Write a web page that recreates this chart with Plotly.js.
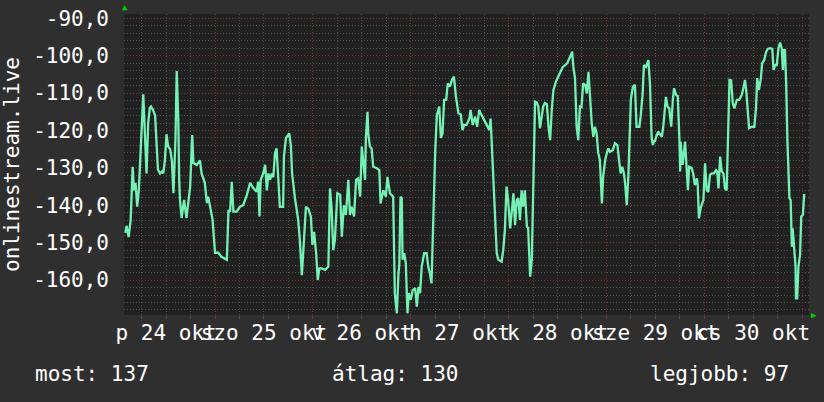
<!DOCTYPE html>
<html>
<head>
<meta charset="utf-8">
<script src="https://cdn.plot.ly/plotly-3.0.1.min.js"></script>
<style>html,body{margin:0;padding:0;background:#2f2f2f;}#chart{width:824px;height:402px;}</style>
</head>
<body>
<div id="chart"></div>
<script>
// hours since 24 Oct 00:00
const hours = [
2.0,2.3,2.8,3.3,3.8,4.1,4.5,4.9,5.3,5.6,6.0,6.4,6.8,7.2,7.6,8.0,8.3,8.8,9.3,9.7,
10.0,10.5,11.0,11.3,11.7,12.1,12.5,13.0,13.4,13.8,14.3,14.6,15.0,15.2,15.4,15.8,16.4,17.0,17.4,17.9,
18.4,18.7,19.5,20.3,20.7,21.5,22.0,22.3,22.8,23.4,24.0,24.8,25.6,26.9,27.3,27.7,28.1,28.5,29.3,30.1,
30.9,31.8,32.6,33.4,34.2,34.6,34.9,35.2,35.8,36.3,36.7,37.1,37.5,37.9,38.3,38.7,39.1,39.5,39.9,40.2,
40.7,40.9,41.4,42.2,42.6,42.9,43.6,44.4,44.8,45.3,45.8,46.3,46.9,47.5,47.9,48.3,48.8,49.2,49.6,50.2,
51.0,51.8,52.2,52.6,53.0,53.4,54.0,54.7,55.1,55.6,56.1,56.7,57.1,57.5,58.1,58.6,59.1,59.6,60.0,60.4,
60.8,61.0,61.4,61.6,62.0,62.4,62.8,63.7,64.3,64.6,65.3,65.9,66.3,66.9,67.7,68.1,68.6,69.0,69.2,69.5,
69.8,70.0,70.4,70.8,71.2,71.5,72.0,72.5,73.1,73.5,73.9,74.3,74.7,75.3,75.9,76.3,76.7,77.1,77.5,78.0,
78.4,79.0,79.4,79.8,80.2,80.7,81.1,81.6,82.1,82.6,83.1,83.7,84.3,84.7,85.1,85.7,86.4,86.7,87.2,87.8,
88.3,88.8,89.4,90.0,90.6,91.3,91.6,91.9,92.3,92.7,93.1,93.5,94.3,94.7,95.1,95.5,95.9,96.4,96.8,97.2,
97.6,98.0,98.4,98.8,99.2,99.6,100.0,100.5,100.8,101.3,101.7,102.1,102.5,102.9,103.3,103.7,104.1,104.5,104.9,105.4,
105.8,106.2,106.6,107.0,107.6,108.2,108.8,109.3,109.9,110.4,111.1,111.6,111.9,112.3,112.7,113.1,113.5,113.9,114.3,114.8,
115.2,115.6,116.0,116.4,116.8,117.2,117.6,118.0,118.4,118.9,119.2,119.7,120.1,120.5,120.9,121.6,122.1,122.7,123.2,123.5,
123.9,124.3,124.6,125.0,125.4,125.8,126.0,126.5,127.0,127.4,128.1,128.4,128.9,129.2,129.7,130.3,130.7,131.1,131.4,131.7,
131.9,132.2,132.7,133.6,134.0,134.6,135.0,135.4,135.9,136.3,136.6,137.1,137.5,137.9,138.1,138.2,138.7,139.3,139.7,140.0,
140.3,140.9,141.3,141.7,142.2,142.4,142.7,143.2,143.8,144.2,144.6,145.0,145.4,145.8,146.4,146.9,147.2,147.5,147.9,148.3,
148.7,149.1,149.5,149.9,150.2,150.6,151.0,151.4,152.0,152.6,153.2,153.6,154.0,154.3,154.7,155.0,155.7,156.3,156.7,157.0,
157.4,157.9,158.2,158.7,159.2,159.6,160.1,160.7,161.0,161.4,161.8,162.2,162.6,163.0,163.3,163.5,163.8,164.1,164.4,164.9,
165.2,165.5,165.7,166.0,166.4,166.5,166.8,167.1,167.5,167.8,168.2,168.5,168.8
];
const values = [
-147.4,-145.5,-148.5,-144.0,-129.7,-136.0,-134.0,-140.4,-136.0,-128.0,-122.0,-110.3,-121.0,-131.5,-118.0,-114.0,-113.6,-114.5,-116.0,-124.0,
-130.5,-131.5,-131.0,-131.5,-128.0,-121.0,-124.3,-125.0,-128.0,-136.8,-122.0,-104.1,-117.6,-133.0,-138.6,-143.4,-138.6,-143.4,-139.0,-135.0,
-121.2,-128.7,-129.2,-128.0,-131.5,-134.0,-139.4,-137.7,-140.4,-143.9,-152.7,-152.7,-153.8,-154.6,-141.3,-141.7,-133.7,-141.7,-141.7,-140.4,
-140.0,-137.3,-134.0,-135.4,-136.4,-133.7,-143.0,-133.3,-131.5,-129.2,-136.0,-131.5,-133.2,-131.5,-132.5,-126.1,-124.8,-131.5,-140.4,-140.4,
-140.4,-127.0,-122.0,-120.8,-124.0,-131.5,-138.1,-143.9,-149.3,-158.7,-148.4,-140.4,-141.0,-143.0,-150.6,-147.1,-152.8,-160.0,-156.9,-156.9,
-157.3,-156.4,-135.5,-140.8,-152.0,-149.3,-136.8,-137.2,-148.4,-140.0,-142.6,-133.2,-142.6,-140.4,-143.0,-133.2,-132.8,-137.7,-124.3,-128.4,
-133.2,-122.0,-115.0,-121.0,-124.3,-124.8,-129.7,-130.1,-130.6,-139.5,-136.0,-137.7,-132.4,-136.8,-137.7,-163.5,-168.9,-158.2,-156.0,-137.7,
-138.1,-154.6,-152.8,-155.5,-168.9,-163.5,-165.3,-162.7,-162.2,-167.1,-161.8,-163.5,-156.4,-152.8,-152.8,-156.4,-158.2,-160.9,-143.9,-126.1,
-116.0,-113.6,-122.0,-120.8,-111.8,-111.8,-107.4,-108.3,-106.5,-105.6,-111.0,-115.4,-115.7,-119.9,-118.5,-118.5,-116.8,-114.5,-118.5,-116.3,
-119.0,-114.5,-115.9,-117.2,-118.5,-119.9,-116.8,-125.0,-136.0,-143.0,-152.8,-154.6,-155.1,-152.0,-146.6,-135.0,-138.6,-146.2,-142.2,-136.8,
-145.3,-138.6,-138.1,-143.9,-136.0,-140.4,-136.0,-145.7,-146.0,-159.1,-154.6,-130.0,-112.3,-112.5,-113.6,-119.4,-116.3,-113.6,-112.7,-113.0,
-119.0,-122.6,-114.5,-109.2,-107.0,-105.6,-104.3,-103.0,-102.5,-102.0,-100.3,-98.9,-103.0,-106.0,-119.0,-122.6,-113.6,-113.8,-107.4,-107.8,
-110.1,-104.3,-111.0,-118.1,-121.7,-119.0,-120.8,-126.0,-127.9,-139.5,-132.4,-127.9,-126.1,-124.8,-125.7,-125.2,-123.4,-123.9,-128.8,-131.5,
-129.7,-131.5,-134.2,-140.0,-131.9,-120.0,-111.8,-108.3,-107.8,-119.0,-119.0,-116.3,-110.1,-102.5,-103.0,-101.2,-107.8,-122.0,-123.9,-122.6,
-123.0,-121.7,-120.3,-121.7,-118.5,-111.0,-113.6,-114.0,-119.0,-111.8,-108.7,-110.5,-110.8,-122.0,-131.0,-123.0,-129.2,-123.0,-131.0,-136.0,
-129.7,-130.0,-131.5,-134.6,-132.8,-134.6,-143.5,-140.4,-138.6,-128.8,-136.0,-136.4,-131.9,-131.5,-131.5,-130.6,-131.0,-135.5,-127.0,-131.0,
-131.5,-135.5,-136.0,-120.0,-106.5,-106.6,-112.7,-114.1,-111.8,-111.8,-110.5,-108.7,-106.5,-109.2,-115.4,-119.4,-119.0,-119.0,-114.1,-106.0,
-109.2,-106.0,-102.0,-101.2,-98.9,-98.2,-98.0,-98.2,-103.8,-102.5,-102.5,-98.0,-96.5,-98.0,-103.8,-98.5,-98.5,-107.4,-122.6,-138.1,
-138.6,-151.1,-146.2,-151.0,-156.4,-164.9,-164.9,-156.4,-153.3,-143.0,-142.6,-137.3,-137.3
];
const yTickValues = [-160, -150, -140, -130, -120, -110, -100, -90];
const yTickLabels = ["-160,0", "-150,0", "-140,0", "-130,0", "-120,0", "-110,0", "-100,0", "-90,0"];
const dayLabelHours = [12, 36, 60, 84, 108, 132, 156];
const dayLabels = ["p 24 okt", "szo 25 okt", "v 26 okt", "h 27 okt", "k 28 okt", "sze 29 okt", "cs 30 okt"];
const seriesName = "onlinestream.live";
const footer = ["most: 137", "átlag: 130", "legjobb: 97"];

const FONT = "DejaVu Sans Mono";
const xRange = [1.67, 169.7];
const redGrid = "#743434";
const grayGrid = "#505050";
const dotDash = "1px,2px";

const trace = {
  x: hours, y: values, xaxis: "x", yaxis: "y", type: "scatter", mode: "lines",
  line: {color: "#74f2b6", width: 2.3}, hoverinfo: "skip", showlegend: false
};
// empty trace so that the day-label axis is drawn
const labelAxisTrace = {
  x: [], y: [], xaxis: "x2", yaxis: "y", type: "scatter", mode: "lines",
  hoverinfo: "skip", showlegend: false
};

const layout = {
  width: 824, height: 402,
  paper_bgcolor: "#2f2f2f", plot_bgcolor: "#212121",
  margin: {l: 124, r: 15, t: 14, b: 87, pad: 0},
  showlegend: false,
  xaxis: {
    range: xRange, tickmode: "linear", tick0: 0, dtick: 24,
    showticklabels: false, showgrid: true, gridcolor: redGrid, griddash: dotDash, gridwidth: 1,
    ticks: "outside", ticklen: 3, tickcolor: redGrid, zeroline: false, showline: false,
    minor: {tick0: 0, dtick: 6, showgrid: true, gridcolor: grayGrid, griddash: dotDash, gridwidth: 1,
            ticks: "outside", ticklen: 3, tickcolor: grayGrid},
    fixedrange: true
  },
  xaxis2: {
    range: xRange, overlaying: "x", anchor: "y", side: "bottom",
    tickmode: "array", tickvals: dayLabelHours, ticktext: dayLabels, tickangle: 0,
    showgrid: false, zeroline: false, ticks: "", ticklabelstandoff: 3,
    tickfont: {family: FONT, size: 21, color: "#ffffff"}
  },
  yaxis: {
    range: [-169.35, -88.85], tickmode: "array", tickvals: yTickValues, ticktext: yTickLabels,
    showgrid: true, gridcolor: redGrid, griddash: dotDash, gridwidth: 1, zeroline: false,
    ticks: "", ticklabelstandoff: 14,
    tickfont: {family: FONT, size: 21, color: "#ffffff"},
    minor: {tick0: -90, dtick: 2, showgrid: true, gridcolor: grayGrid, griddash: dotDash, gridwidth: 1},
    title: {text: seriesName, font: {family: FONT, size: 21, color: "#ffffff"}, standoff: 8},
    automargin: false
  },
  annotations: [
    {xref: "paper", yref: "paper", x: -0.1328, y: -0.197, xanchor: "left", yanchor: "middle",
     text: footer[0], showarrow: false, font: {family: FONT, size: 21, color: "#ffffff"}},
    {xref: "paper", yref: "paper", x: 0.3007, y: -0.197, xanchor: "left", yanchor: "middle",
     text: footer[1], showarrow: false, font: {family: FONT, size: 21, color: "#ffffff"}},
    {xref: "paper", yref: "paper", x: 0.9737, y: -0.197, xanchor: "right", yanchor: "middle",
     text: footer[2], showarrow: false, font: {family: FONT, size: 21, color: "#ffffff"}},
    {xref: "paper", yref: "paper", x: 0.0015, y: 1.0, xanchor: "center", yanchor: "bottom",
     text: "▲", showarrow: false, font: {family: FONT, size: 9, color: "#00cc00"}},
    {xref: "paper", yref: "paper", x: 1.0, y: 0.0, xanchor: "left", yanchor: "middle",
     text: "▶", showarrow: false, font: {family: FONT, size: 9, color: "#00cc00"}}
  ]
};

Plotly.newPlot("chart", [trace, labelAxisTrace], layout, {staticPlot: true, displayModeBar: false});
</script>
</body>
</html>
